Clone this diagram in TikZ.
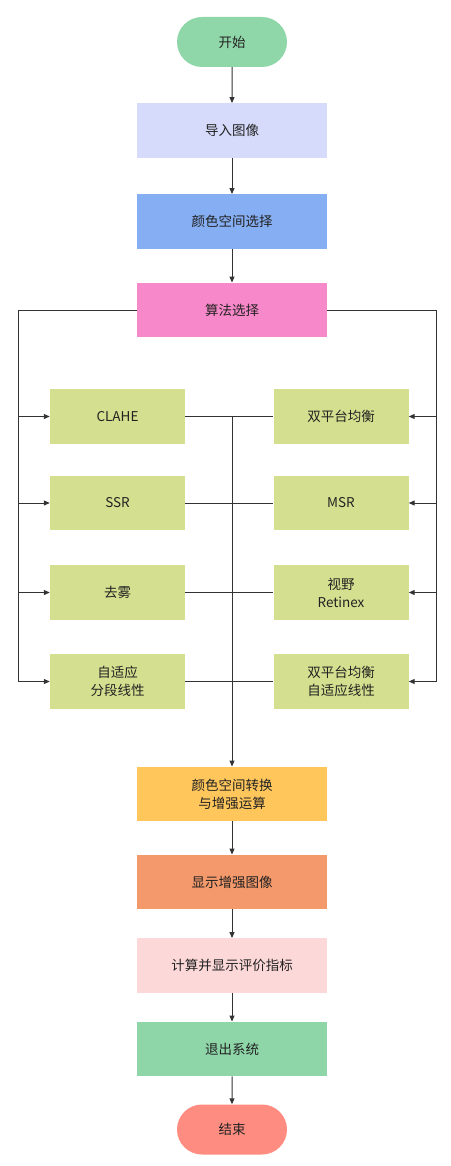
\documentclass[tikz,border=0pt]{standalone}
\usepackage{fontspec}
\setmainfont{Noto Sans CJK SC}
\usetikzlibrary{arrows.meta,shapes.misc}
\definecolor{cstart}{HTML}{8FD6A8}
\definecolor{cimport}{HTML}{D6DBFB}
\definecolor{ccsel}{HTML}{86AEF2}
\definecolor{calgo}{HTML}{F788C9}
\definecolor{calg}{HTML}{D4E08F}
\definecolor{cconv}{HTML}{FFC65C}
\definecolor{cshow}{HTML}{F4996B}
\definecolor{ceval}{HTML}{FDD8D9}
\definecolor{cexit}{HTML}{8ED6A8}
\definecolor{cend}{HTML}{FF8C80}
\definecolor{cline}{HTML}{333333}
\definecolor{ctext}{HTML}{222222}
\begin{document}
\begin{tikzpicture}[x=1pt,y=-1pt,
  base/.style={inner sep=0pt,align=center,font=\fontsize{13.5}{18}\selectfont,text=ctext},
  mainbox/.style={base,minimum width=190pt,minimum height=54.5pt},
  algbox/.style={base,fill=calg,minimum width=135pt,minimum height=54.5pt},
  term/.style={base,rounded rectangle,minimum width=110pt,minimum height=50pt},
  conn/.style={draw=cline,line width=1pt},
  arr/.style={conn,-{Triangle[length=6pt,width=5pt]}}]
\useasboundingbox (0,0) rectangle (450,1166);
\node[term,fill=cstart] (start) at (232,42) {开始};
\node[mainbox,fill=cimport] (imp) at (232,130.5) {导入图像};
\node[mainbox,fill=ccsel] (csel) at (232,221.5) {颜色空间选择};
\node[mainbox,fill=calgo] (algo) at (232,310) {算法选择};
\node[algbox] (clahe) at (117.5,416.5) {CLAHE};
\node[algbox] (ssr) at (117.5,503) {SSR};
\node[algbox] (dehaze) at (117.5,592.5) {去雾};
\node[algbox] (apl) at (117.5,681.5) {自适应\\分段线性};
\node[algbox] (dpe) at (341,416.5) {双平台均衡};
\node[algbox] (msr) at (341,503) {MSR};
\node[algbox] (ret) at (341,592.5) {视野\\Retinex};
\node[algbox] (dpal) at (341,681.5) {双平台均衡\\自适应线性};
\node[mainbox,fill=cconv] (conv) at (232,794) {颜色空间转换\\与增强运算};
\node[mainbox,fill=cshow] (show) at (232,882) {显示增强图像};
\node[mainbox,fill=ceval] (eval) at (232,965.5) {计算并显示评价指标};
\node[mainbox,fill=cexit] (exit) at (232,1049) {退出系统};
\node[term,fill=cend] (end) at (232,1129.5) {结束};
\coordinate (lt) at (18,310);
\coordinate (rt) at (436,310);
\coordinate (lb) at (18,681.5);
\coordinate (rb) at (436,681.5);
\coordinate (mtop) at (232,416.5);
\draw[arr] (start) -- (imp);
\draw[arr] (imp) -- (csel);
\draw[arr] (csel) -- (algo);
\draw[conn] (algo.west) -- (lt) -- (lb);
\draw[conn] (algo.east) -- (rt) -- (rb);
\foreach \n in {clahe,ssr,dehaze,apl}{\draw[arr] (lt |- \n.west) -- (\n.west);}
\foreach \n in {dpe,msr,ret,dpal}{\draw[arr] (rt |- \n.east) -- (\n.east);}
\draw[conn] (clahe.east) -- (dpe.west);
\draw[conn] (ssr.east) -- (msr.west);
\draw[conn] (dehaze.east) -- (ret.west);
\draw[conn] (apl.east) -- (dpal.west);
\draw[arr] (mtop) -- (conv.north);
\draw[arr] (conv) -- (show);
\draw[arr] (show) -- (eval);
\draw[arr] (eval) -- (exit);
\draw[arr] (exit) -- (end);
\end{tikzpicture}
\end{document}
